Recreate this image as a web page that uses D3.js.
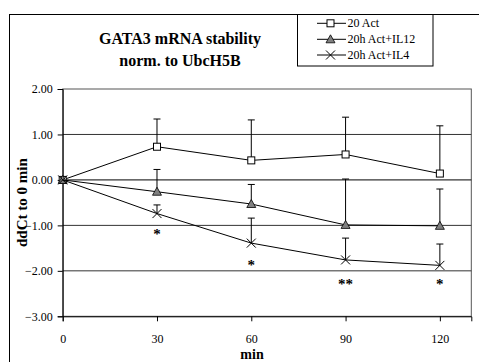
<!DOCTYPE html>
<html>
<head>
<meta charset="utf-8">
<script src="https://cdn.jsdelivr.net/npm/d3@7"></script>
<style>
  html, body { margin: 0; padding: 0; background: #fff; }
  svg { display: block; }
  text { font-family: "Liberation Serif", "Times New Roman", serif; fill: #000; }
</style>
</head>
<body>
<svg id="chart" width="479" height="362"></svg>
<script>
// Time points (min)
const times = [0, 30, 60, 90, 120];

// Mean ddCt relative to 0 min for each condition
const act = [0, 0.73, 0.43, 0.56, 0.14];
const actIL12 = [0, -0.26, -0.53, -0.99, -1.01];
const actIL4 = [0, -0.74, -1.39, -1.76, -1.88];

// Upper end of each error bar
const actErrTop = [0, 1.34, 1.32, 1.38, 1.19];
const actIL12ErrTop = [0, 0.23, -0.10, 0.02, -0.20];
const actIL4ErrTop = [0, -0.55, -0.84, -1.28, -1.41];

// Significance marks under the IL4 series
const sigTimes = [30, 60, 90, 120];
const sigLabels = ["*", "*", "**", "*"];
const sigLevels = [-1.14, -1.83, -2.24, -2.24];

const yTicks = [2, 1, 0, -1, -2, -3];
const xTicks = [0, 30, 60, 90, 120];
const seriesNames = ["20 Act", "20h Act+IL12", "20h Act+IL4"];

const svg = d3.select("#chart");

const plot = { left: 62.7, right: 471.3, top: 89, bottom: 316.3 };
const x = d3.scaleLinear().domain([0, 130]).range([plot.left, plot.right]);
const y = d3.scaleLinear().domain([-3, 2]).range([plot.bottom, plot.top]);

// Outer chart frame (runs past the page edge)
svg.append("rect")
  .attr("x", 9.5).attr("y", 14.5).attr("width", 480).attr("height", 360)
  .attr("fill", "none").attr("stroke", "#000").attr("stroke-width", 1);

// Title
const title = svg.append("text")
  .attr("text-anchor", "middle")
  .attr("font-weight", "bold").attr("font-size", 16);
title.append("tspan").attr("x", 180).attr("y", 44).text("GATA3 mRNA stability");
title.append("tspan").attr("x", 180).attr("y", 66).text("norm. to UbcH5B");

// Plot area frame
svg.append("rect")
  .attr("x", plot.left).attr("y", plot.top)
  .attr("width", plot.right - plot.left).attr("height", plot.bottom - plot.top)
  .attr("fill", "none").attr("stroke", "#555").attr("stroke-width", 1);

// Horizontal gridlines
svg.append("g")
  .selectAll("line")
  .data(yTicks.filter(d => d > -3 && d < 2))
  .join("line")
  .attr("x1", plot.left).attr("x2", plot.right)
  .attr("y1", d => y(d)).attr("y2", d => y(d))
  .attr("stroke", d => d === 0 ? "#000" : "#333").attr("stroke-width", 1);

// Y axis
const yAxis = svg.append("g")
  .attr("transform", `translate(${plot.left},0)`)
  .call(d3.axisLeft(y).tickValues(yTicks).tickFormat(d3.format(".2f")).tickSize(5).tickPadding(5));
yAxis.select(".domain").attr("stroke", "#000");
yAxis.selectAll("text").attr("font-size", 12)
  .attr("font-family", "Liberation Serif, Times New Roman, serif");

// X axis
const xAxis = svg.append("g")
  .attr("transform", `translate(0,${plot.bottom})`)
  .call(d3.axisBottom(x).tickValues(xTicks).tickFormat(d3.format("d")).tickSize(5).tickPadding(13.5));
xAxis.select(".domain").attr("stroke", "#000");
xAxis.selectAll("text").attr("font-size", 12)
  .attr("font-family", "Liberation Serif, Times New Roman, serif");

// Axis titles
svg.append("text")
  .attr("transform", `translate(27,${(plot.top + plot.bottom) / 2}) rotate(-90)`)
  .attr("text-anchor", "middle")
  .attr("font-weight", "bold").attr("font-size", 15)
  .text("ddCt to 0 min");
svg.append("text")
  .attr("x", 252).attr("y", 359)
  .attr("text-anchor", "middle")
  .attr("font-weight", "bold").attr("font-size", 14)
  .text("min");

const series = [
  { name: seriesNames[0], values: act, errTop: actErrTop, marker: "square" },
  { name: seriesNames[1], values: actIL12, errTop: actIL12ErrTop, marker: "triangle" },
  { name: seriesNames[2], values: actIL4, errTop: actIL4ErrTop, marker: "cross" }
];

function drawMarker(g, type, cx, cy) {
  if (type === "square") {
    g.append("rect").attr("x", cx - 3.5).attr("y", cy - 3.5)
      .attr("width", 7).attr("height", 7)
      .attr("fill", "#fff").attr("stroke", "#000").attr("stroke-width", 1);
  } else if (type === "triangle") {
    g.append("path")
      .attr("d", `M${cx},${cy - 4.5}L${cx + 4.5},${cy + 3.5}L${cx - 4.5},${cy + 3.5}Z`)
      .attr("fill", "#808080").attr("stroke", "#000").attr("stroke-width", 0.8);
  } else {
    g.append("path")
      .attr("d", `M${cx - 4.5},${cy - 4.5}L${cx + 4.5},${cy + 4.5}M${cx - 4.5},${cy + 4.5}L${cx + 4.5},${cy - 4.5}`)
      .attr("stroke", "#000").attr("stroke-width", 1).attr("fill", "none");
  }
}

const line = d3.line().x(d => x(d[0])).y(d => y(d[1]));

series.forEach(s => {
  const g = svg.append("g");
  const pts = times.map((t, i) => [t, s.values[i]]);
  // Error bars (upper side only)
  times.forEach((t, i) => {
    if (t === 0) return;
    const cx = x(t);
    g.append("line").attr("x1", cx).attr("x2", cx)
      .attr("y1", y(s.values[i])).attr("y2", y(s.errTop[i]))
      .attr("stroke", "#000").attr("stroke-width", 1);
    g.append("line").attr("x1", cx - 3.5).attr("x2", cx + 3.5)
      .attr("y1", y(s.errTop[i])).attr("y2", y(s.errTop[i]))
      .attr("stroke", "#000").attr("stroke-width", 1);
  });
  g.append("path").datum(pts).attr("d", line)
    .attr("fill", "none").attr("stroke", "#000").attr("stroke-width", 1);
  pts.forEach(p => drawMarker(g, s.marker, x(p[0]), y(p[1])));
});

// Significance asterisks
svg.append("g")
  .selectAll("text")
  .data(sigTimes.map((t, i) => ({ t, label: sigLabels[i], v: sigLevels[i] })))
  .join("text")
  .attr("x", d => x(d.t)).attr("y", d => y(d.v) + 7)
  .attr("text-anchor", "middle")
  .attr("font-size", 15).attr("font-weight", "bold")
  .text(d => d.label);

// Legend
const legend = svg.append("g");
legend.append("rect")
  .attr("x", 297.5).attr("y", 14.5).attr("width", 135.5).attr("height", 51.5)
  .attr("fill", "#fff").attr("stroke", "#000").attr("stroke-width", 1);
const rowY = [23.3, 39.3, 55];
series.forEach((s, i) => {
  const cy = rowY[i];
  legend.append("line").attr("x1", 317).attr("x2", 346)
    .attr("y1", cy).attr("y2", cy).attr("stroke", "#000").attr("stroke-width", 1);
  drawMarker(legend, s.marker, 330.5, cy);
  legend.append("text").attr("x", 347.5).attr("y", cy + 4)
    .attr("font-size", 12).text(s.name);
});
</script>
</body>
</html>
